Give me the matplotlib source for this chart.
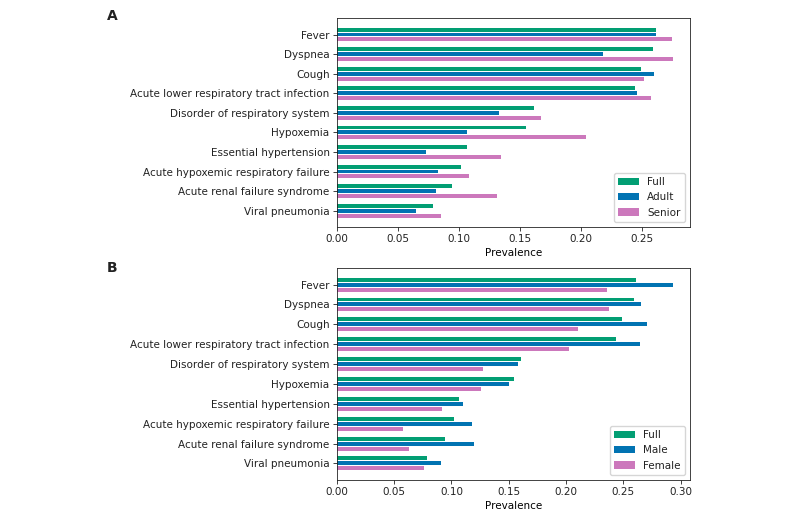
import matplotlib.pyplot as plt
import numpy as np

conditions = ["Fever", "Dyspnea", "Cough", "Acute lower respiratory tract infection",
              "Disorder of respiratory system", "Hypoxemia", "Essential hypertension",
              "Acute hypoxemic respiratory failure", "Acute renal failure syndrome",
              "Viral pneumonia"]

full = [0.261, 0.259, 0.249, 0.244, 0.161, 0.155, 0.1065, 0.102, 0.0945, 0.0787]
adult = [0.261, 0.218, 0.260, 0.246, 0.133, 0.1066, 0.073, 0.0825, 0.081, 0.0645]
senior = [0.2745, 0.2752, 0.2514, 0.257, 0.167, 0.204, 0.1347, 0.108, 0.131, 0.085]
male = [0.2934, 0.2657, 0.2707, 0.2645, 0.1577, 0.1499, 0.1105, 0.118, 0.1195, 0.091]
female = [0.2362, 0.2371, 0.2103, 0.2027, 0.1277, 0.126, 0.0918, 0.0574, 0.0633, 0.0764]

green = "#029e73"
blue = "#0173b2"
pink = "#cc78bc"

# whole chart looks like a 0.75x downscale of a default-sized figure
s = 0.75
plt.rcParams.update({
    "font.size": 10 * s,
    "axes.linewidth": 0.8 * s,
    "xtick.major.width": 0.8 * s,
    "ytick.major.width": 0.8 * s,
    "xtick.major.size": 3.5 * s,
    "ytick.major.size": 3.5 * s,
    "xtick.major.pad": 3.5 * s,
    "ytick.major.pad": 3.5 * s,
    "axes.labelpad": 4 * s,
    "text.color": "#222222",
    "xtick.color": "#222222",
    "ytick.color": "#222222",
    "axes.edgecolor": "#222222",
})

fig = plt.figure(figsize=(8, 5.19), dpi=100)
axA = fig.add_axes([0.421, 0.5626, 0.4413, 0.4024])
axB = fig.add_axes([0.421, 0.0751, 0.4413, 0.4085])

y = np.arange(len(conditions))
h = 0.2
off = 0.25

def panel(ax, s1, s2, s3, names):
    ax.barh(y - off, s1, height=h, color=green, label=names[0])
    ax.barh(y, s2, height=h, color=blue, label=names[1])
    ax.barh(y + off, s3, height=h, color=pink, label=names[2])
    ax.set_yticks(y)
    ax.set_yticklabels(conditions)
    ax.invert_yaxis()
    ax.set_xlabel("Prevalence")
    ax.legend(loc="lower right")

panel(axA, full, adult, senior, ["Full", "Adult", "Senior"])
panel(axB, full, male, female, ["Full", "Male", "Female"])

fig.text(0.134, 0.982, "A", fontsize=10, fontweight="bold", va="top")
fig.text(0.134, 0.497, "B", fontsize=10, fontweight="bold", va="top")

fig.savefig("out.png", dpi=100)
